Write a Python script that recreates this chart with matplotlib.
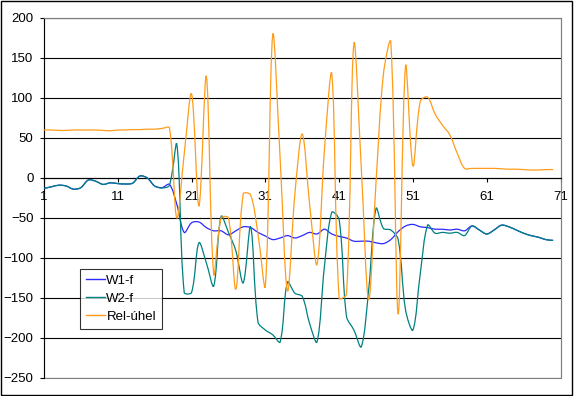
import numpy as np
import matplotlib
matplotlib.use("Agg")
import matplotlib.pyplot as plt
from matplotlib.path import Path
from matplotlib.patches import PathPatch, Rectangle

plt.rcParams['font.family'] = ['Liberation Sans', 'DejaVu Sans']

# Hodnoty (body 1..70)
x_vals = np.arange(1, 71)

w1_f = [-13, -11, -9, -10, -14, -12, -2.5, -4, -8, -6,
        -7, -7.5, -6.5, 2.5, 0, -10, -12, -8, -33, -68,
        -56, -55, -62, -66, -66, -71, -66, -61, -62, -68,
        -72.5, -77, -75, -72, -75, -72, -68, -70, -64, -70,
        -73, -75, -79, -79, -79, -81, -82, -77, -67, -60,
        -58, -61, -62, -64, -64, -65, -64, -66, -60, -65,
        -70, -65, -59, -61, -65, -69, -72, -74, -77, -78]

w2_f = [-13, -11, -9, -10, -14, -12, -2.5, -4, -8, -6,
        -7, -7.5, -6.5, 2.5, 0, -10, -12.5, -9, 42, -143,
        -143, -81, -106, -135, -48, -68, -91, -131, -61, -180,
        -190, -196, -205, -130, -144, -148, -182, -205, -111, -43,
        -52, -173, -190, -211, -140, -38, -63, -65, -77, -165,
        -190, -119, -59, -69, -68, -69, -68, -72, -60, -65,
        -70, -65, -59, -61, -65, -69, -72, -74, -77, -78]

rel_uhel = [60, 60, 59.5, 59.5, 60, 60, 60, 60, 59.5, 59,
            60, 60, 60.5, 60.5, 61, 61, 62, 62.5, -50, 30,
            105, -35, 127, -120, -50, -50, -139, -20, -21, -70,
            -135, 179, 25, -141, -20, 55, -33, -108, 34, 130,
            -150, -145, 168, 13, -152, -5, 130, 170, -170, 140,
            15, 96, 101, 80, 66, 54, 31, 12, 12, 12,
            12, 12, 11.5, 11, 11, 10.5, 10, 10, 10.5, 10.5]

series = [("W1-f", w1_f, "#2a2aff"),
          ("W2-f", w2_f, "#008080"),
          ("Rel-úhel", rel_uhel, "#ff9c1a")]

y_ticks = [200, 150, 100, 50, 0, -50, -100, -150, -200, -250]
x_ticks = [1, 11, 21, 31, 41, 51, 61, 71]

# měřítko v pixelech na jednotku (pro vyhlazení jako v Excelu)
PX_X = 7.38
PX_Y = 0.8


def smooth_path(x, y):
    """Vyhlazená čára (Bezier), tečny úměrné délkám sousedních úseků."""
    x = np.asarray(x, float)
    y = np.asarray(y, float)
    n = len(x)

    def dist(a, b):
        return np.hypot((x[b] - x[a]) * PX_X, (y[b] - y[a]) * PX_Y)

    verts = [(x[0], y[0])]
    codes = [Path.MOVETO]
    for i in range(n - 1):
        i0 = max(i - 1, 0)
        i3 = min(i + 2, n - 1)
        d01 = dist(i0, i)
        d12 = dist(i, i + 1)
        d23 = dist(i + 1, i3)
        f1 = d12 / (d01 + d12) / 3 if d01 + d12 > 0 else 0
        f2 = d12 / (d12 + d23) / 3 if d12 + d23 > 0 else 0
        c1 = (x[i] + (x[i + 1] - x[i0]) * f1, y[i] + (y[i + 1] - y[i0]) * f1)
        c2 = (x[i + 1] - (x[i3] - x[i]) * f2, y[i + 1] - (y[i3] - y[i]) * f2)
        verts += [c1, c2, (x[i + 1], y[i + 1])]
        codes += [Path.CURVE4] * 3
    return Path(verts, codes)


fig = plt.figure(figsize=(5.74, 3.96), dpi=100)
ax = fig.add_axes([44 / 574, 18 / 396, 516.5 / 574, 360 / 396])

for name, vals, col in series:
    patch = PathPatch(smooth_path(x_vals, vals), transform=ax.transData,
                      fill=False, edgecolor=col, lw=0.9, zorder=3)
    ax.add_patch(patch)
    ax.plot([], [], color=col, lw=1.0, label=name)

ax.set_xlim(1, 71)
ax.set_ylim(-250, 200)

# Mřížka
ax.set_yticks(y_ticks)
ax.yaxis.grid(True, color="black", lw=0.8)
ax.set_axisbelow(True)

# Osa x v nule
ax.spines['bottom'].set_position(('data', 0))
ax.spines['bottom'].set_color('black')
ax.spines['bottom'].set_linewidth(0.8)
ax.spines['left'].set_color('black')
ax.spines['left'].set_linewidth(0.8)
for s in ['top', 'right']:
    ax.spines[s].set_color('#808080')
    ax.spines[s].set_linewidth(0.8)
ax.add_patch(Rectangle((0, 0), 1, 1, transform=ax.transAxes, fill=False,
                       ec='#808080', lw=0.8, zorder=0.5, clip_on=False))

ax.set_xticks(x_ticks)
ax.set_xticklabels([str(t) for t in x_ticks])
ax.tick_params(axis='x', direction='out', length=3, width=0.8, pad=6,
               labelsize=9.5)
ax.tick_params(axis='y', direction='out', length=3, width=0.8, pad=4.5,
               labelsize=9.5)

leg = ax.legend(loc='lower left', bbox_to_anchor=(0.0697, 0.136),
                borderaxespad=0, fontsize=9.5, frameon=True, fancybox=False,
                edgecolor='black', handlelength=1.45, handletextpad=0.1,
                labelspacing=0.45, borderpad=0.45)
leg.get_frame().set_linewidth(0.8)

# Rámeček kolem celého grafu
fig.patches.append(Rectangle((1 / 574, 1 / 396), 571 / 574, 394 / 396,
                             transform=fig.transFigure, fill=False,
                             ec='black', lw=1.0))

fig.savefig("out.png", dpi=100)
